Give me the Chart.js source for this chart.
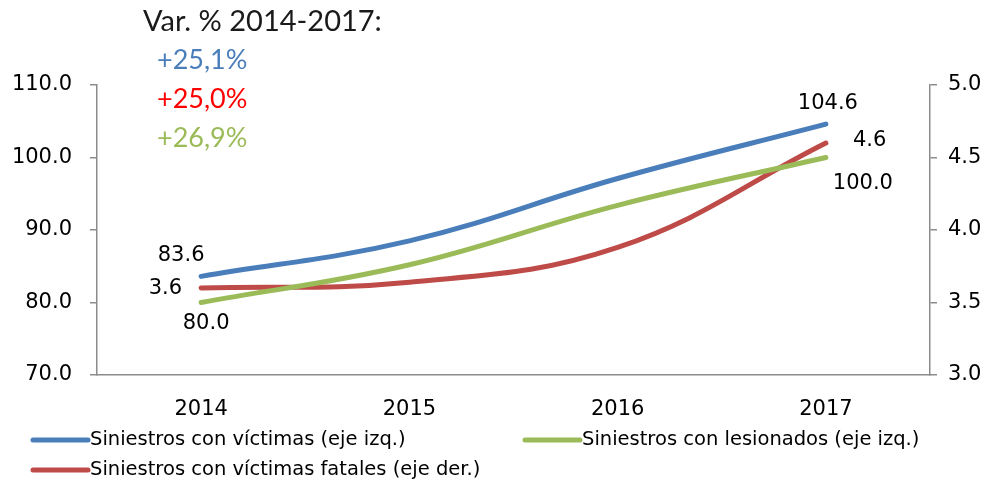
<!DOCTYPE html>
<html>
<head>
<meta charset="utf-8">
<script src="https://cdn.jsdelivr.net/npm/chart.js@4.4.1/dist/chart.umd.min.js"></script>
<style>
  html, body { margin: 0; padding: 0; background: #fff; }
  #wrap { position: relative; width: 988px; height: 484px; }
</style>
</head>
<body>
<div id="wrap"><canvas id="chart" width="988" height="484"></canvas></div>
<script>
// Data
const years = ['2014', '2015', '2016', '2017'];
const victimas = [83.6, 88.5, 97.1, 104.6];      // left axis
const lesionados = [80.0, 85.2, 93.4, 100.0];    // left axis
const fatales = [3.6, 3.64, 3.88, 4.6];          // right axis
const leftTicks = [70, 80, 90, 100, 110];
const rightTicks = [3.0, 3.5, 4.0, 4.5, 5.0];
const titleLine = 'Var. % 2014-2017:';
const varLines = ['+25,1%', '+25,0%', '+26,9%'];

const blue = '#4A7EBB', green = '#9BBB59', red = '#BE4B48';
const axisGray = '#8C8C8C';
const tickFont = { family: 'DejaVu Sans', size: 21 };

// which points get a value label, and where (offset from point)
const labelSpots = {
  0: { 0: [-20, -21, 'center'], 3: [2, -21, 'center'] },
  1: { 0: [5, 21, 'center'], 3: [37, 26, 'center'] },
  2: { 0: [-19, 1, 'right'], 3: [27, -2, 'left'] }
};

const overlay = {
  id: 'overlay',
  afterDraw(chart) {
    const ctx = chart.ctx;
    ctx.save();
    // value labels
    ctx.font = '21px "DejaVu Sans"';
    ctx.fillStyle = '#000';
    ctx.textBaseline = 'middle';
    chart.data.datasets.forEach((ds, i) => {
      const spots = labelSpots[i];
      chart.getDatasetMeta(i).data.forEach((pt, j) => {
        if (!spots[j]) return;
        const [dx, dy, align] = spots[j];
        ctx.textAlign = align;
        ctx.fillText(ds.data[j].toFixed(1), pt.x + dx, pt.y + dy);
      });
    });
    // title block
    ctx.textAlign = 'left';
    ctx.textBaseline = 'alphabetic';
    ctx.font = '29px Lato';
    ctx.fillStyle = '#1a1a1a';
    ctx.fillText(titleLine, 143, 31);
    ctx.font = '27px Lato';
    const cols = [blue, '#FF0000', green];
    varLines.forEach((t, i) => {
      ctx.fillStyle = cols[i];
      ctx.fillText(t, 157, 69 + i * 39);
    });
    // legend
    const items = [[30, 440], [522, 440], [30, 470]];
    ctx.font = '19.5px "DejaVu Sans"';
    ctx.textBaseline = 'middle';
    chart.data.datasets.forEach((ds, i) => {
      const [x, y] = items[i];
      ctx.strokeStyle = ds.borderColor;
      ctx.lineWidth = 5;
      ctx.lineCap = 'round';
      ctx.beginPath();
      ctx.moveTo(x + 3, y);
      ctx.lineTo(x + 58, y);
      ctx.stroke();
      ctx.fillStyle = '#000';
      ctx.fillText(ds.label, x + 60, y);
    });
    ctx.restore();
  }
};

new Chart(document.getElementById('chart'), {
  type: 'line',
  data: {
    labels: years,
    datasets: [
      { label: 'Siniestros con víctimas (eje izq.)', data: victimas, yAxisID: 'yL', borderColor: blue },
      { label: 'Siniestros con lesionados (eje izq.)', data: lesionados, yAxisID: 'yL', borderColor: green },
      { label: 'Siniestros con víctimas fatales (eje der.)', data: fatales, yAxisID: 'yR', borderColor: red }
    ]
  },
  options: {
    responsive: false,
    animation: false,
    layout: { padding: { top: 85, right: 0, bottom: 0, left: 0 } },
    elements: {
      line: { borderWidth: 5, tension: 0.4, borderCapStyle: 'round', fill: false },
      point: { radius: 0, hoverRadius: 0 }
    },
    plugins: { legend: { display: false }, tooltip: { enabled: false } },
    scales: {
      x: {
        offset: true,
        grid: { display: false, drawTicks: false },
        border: { display: true, color: axisGray, width: 1.5 },
        ticks: { color: '#000', font: tickFont, padding: 22 },
        afterFit(s) { s.height = 109; }
      },
      yL: {
        position: 'left',
        min: 70, max: 110,
        afterBuildTicks(s) { s.ticks = leftTicks.map(v => ({ value: v })); },
        grid: { drawOnChartArea: false, tickLength: 7, color: axisGray, lineWidth: 1.5 },
        border: { color: axisGray, width: 1.5 },
        ticks: { color: '#000', font: tickFont, padding: 18, callback: v => v.toFixed(1) },
        afterFit(s) { s.width = 97; }
      },
      yR: {
        position: 'right',
        min: 3, max: 5,
        afterBuildTicks(s) { s.ticks = rightTicks.map(v => ({ value: v })); },
        grid: { drawOnChartArea: false, tickLength: 7, color: axisGray, lineWidth: 1.5 },
        border: { color: axisGray, width: 1.5 },
        ticks: { color: '#000', font: tickFont, padding: 11, callback: v => v.toFixed(1) },
        afterFit(s) { s.width = 58; }
      }
    }
  },
  plugins: [overlay]
});
</script>
</body>
</html>
